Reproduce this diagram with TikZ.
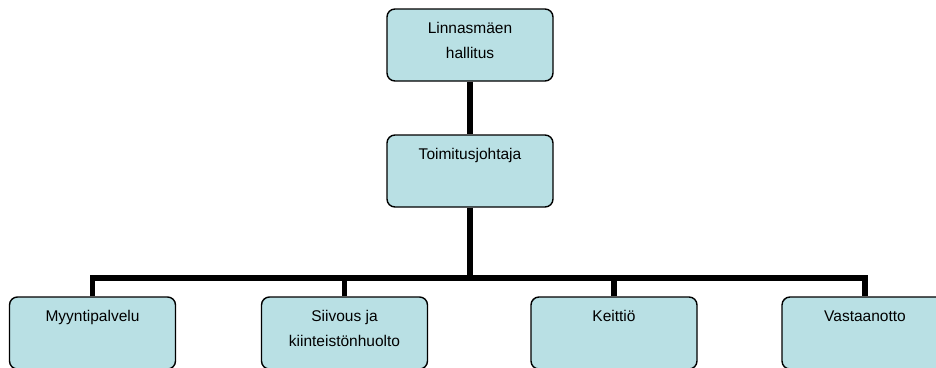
\documentclass[tikz,border=0pt]{standalone}
\usepackage{fontspec}
\setmainfont{Liberation Sans}
\usepackage{xcolor}
\usepackage{tikz}

\definecolor{laatikko}{RGB}{185,224,228}

\tikzset{
    yksikko/.style={draw, line width=1.4pt, rounded corners=8pt, fill=laatikko,
        minimum width=166pt, minimum height=72pt, align=center,
        font=\fontsize{15.5pt}{25.5pt}\selectfont,
        text height=12pt, text depth=36pt},
    kaksirivi/.style={text height=37.5pt, text depth=10.5pt},
    linja/.style={line width=5.5pt, line join=miter},
}

\begin{document}
\begin{tikzpicture}[x=1pt, y=-1pt]
    \useasboundingbox (0, 0) rectangle (936, 367);

    \node[yksikko, kaksirivi] at (470, 45) (hallitus) {Linnasmäen\\hallitus};
    \node[yksikko] at (470, 171) (toimitus) {Toimitusjohtaja};
    \node[yksikko] at (92.5, 333) (myynti) {Myyntipalvelu};
    \node[yksikko, kaksirivi] at (344.5, 333) (siivous) {Siivous ja\\kiinteistönhuolto};
    \node[yksikko] at (614, 333) (keittio) {Keittiö};
    \node[yksikko] at (865, 333) (vastaanotto) {Vastaanotto};
    \coordinate (haara) at (470, 278);

    \draw[linja] (hallitus) -- (toimitus);
    \draw[linja] (toimitus) -- (haara);
    \draw[linja] (myynti.north) |- (haara) -| (vastaanotto.north);
    \draw[linja] (siivous.north) -- (siivous.north |- haara);
    \draw[linja] (keittio.north) -- (keittio.north |- haara);
\end{tikzpicture}
\end{document}
